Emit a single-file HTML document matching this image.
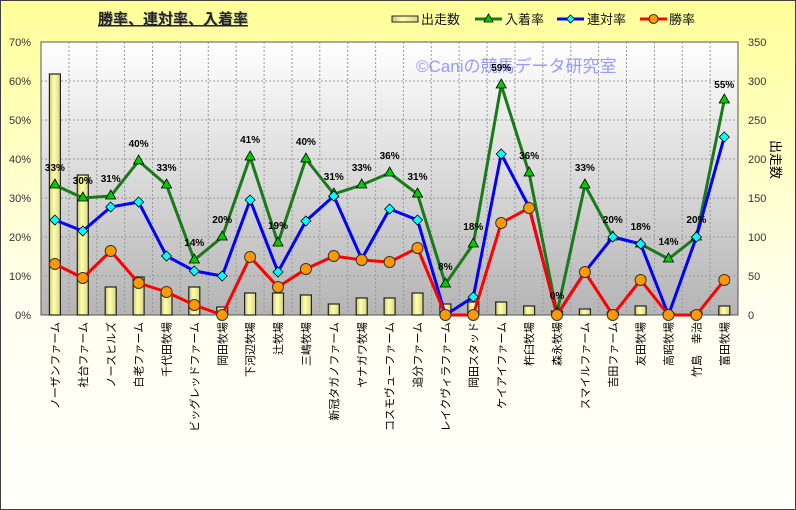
<!DOCTYPE html>
<html><head><meta charset="utf-8"><style>
html,body{margin:0;padding:0;}
body{width:796px;height:510px;overflow:hidden;}
svg{display:block;font-family:"Liberation Sans","Noto Sans CJK JP",sans-serif;}
</style></head><body>
<svg width="796" height="510" viewBox="0 0 796 510" xmlns="http://www.w3.org/2000/svg">
<defs>
<linearGradient id="bg" x1="0" y1="0" x2="0" y2="1">
<stop offset="0" stop-color="#ffff99"/><stop offset="0.6" stop-color="#fffff0"/><stop offset="1" stop-color="#fffffa"/></linearGradient>
<linearGradient id="pl" x1="0" y1="0" x2="0" y2="1">
<stop offset="0" stop-color="#ffffff"/><stop offset="1" stop-color="#b4b4b4"/></linearGradient>
<linearGradient id="bar" x1="0" y1="0" x2="1" y2="0">
<stop offset="0" stop-color="#c8c870"/><stop offset="0.4" stop-color="#ffffb0"/><stop offset="1" stop-color="#d8d880"/></linearGradient>
</defs>
<rect x="0.5" y="0.5" width="795" height="509" fill="url(#bg)" stroke="#404040"/>
<text x="99" y="25" font-size="15" font-weight="bold" fill="#c8c8a0">勝率、連対率、入着率</text>
<text x="98" y="24" font-size="15" font-weight="bold" fill="#222" text-decoration="underline">勝率、連対率、入着率</text>
<g font-size="13" fill="#111">
<rect x="392" y="16" width="26" height="6" fill="url(#bar)" stroke="#222"/><text x="421" y="24">出走数</text>
<line x1="475" y1="19" x2="502" y2="19" stroke="#1a7a1a" stroke-width="3"/><polygon points="488.5,14 493,22 484,22" fill="#0c0" stroke="#000" stroke-width="0.8"/><text x="505" y="24">入着率</text>
<line x1="557" y1="19" x2="584" y2="19" stroke="#0000ff" stroke-width="3"/><polygon points="570.5,15 574.5,19 570.5,23 566.5,19" fill="#0ff" stroke="#000" stroke-width="0.8"/><text x="587" y="24">連対率</text>
<line x1="640" y1="19" x2="667" y2="19" stroke="#f00" stroke-width="3"/><circle cx="653.5" cy="19" r="4.5" fill="#f90" stroke="#000" stroke-width="0.8"/><text x="669" y="24">勝率</text>
</g>
<rect x="41" y="42" width="697" height="273" fill="url(#pl)" stroke="#555"/>
<g stroke="#999" stroke-dasharray="2,2" stroke-width="1">
<line x1="41" y1="81" x2="738" y2="81"/><line x1="41" y1="120" x2="738" y2="120"/><line x1="41" y1="159" x2="738" y2="159"/><line x1="41" y1="198" x2="738" y2="198"/><line x1="41" y1="237" x2="738" y2="237"/><line x1="41" y1="276" x2="738" y2="276"/>
<line x1="68.9" y1="42" x2="68.9" y2="315"/><line x1="96.8" y1="42" x2="96.8" y2="315"/><line x1="124.6" y1="42" x2="124.6" y2="315"/><line x1="152.5" y1="42" x2="152.5" y2="315"/><line x1="180.4" y1="42" x2="180.4" y2="315"/><line x1="208.3" y1="42" x2="208.3" y2="315"/><line x1="236.2" y1="42" x2="236.2" y2="315"/><line x1="264.1" y1="42" x2="264.1" y2="315"/><line x1="292" y1="42" x2="292" y2="315"/><line x1="319.8" y1="42" x2="319.8" y2="315"/><line x1="347.7" y1="42" x2="347.7" y2="315"/><line x1="375.6" y1="42" x2="375.6" y2="315"/><line x1="403.4" y1="42" x2="403.4" y2="315"/><line x1="431.3" y1="42" x2="431.3" y2="315"/><line x1="459.2" y1="42" x2="459.2" y2="315"/><line x1="487.1" y1="42" x2="487.1" y2="315"/><line x1="515" y1="42" x2="515" y2="315"/><line x1="542.9" y1="42" x2="542.9" y2="315"/><line x1="570.8" y1="42" x2="570.8" y2="315"/><line x1="598.6" y1="42" x2="598.6" y2="315"/><line x1="626.5" y1="42" x2="626.5" y2="315"/><line x1="654.4" y1="42" x2="654.4" y2="315"/><line x1="682.3" y1="42" x2="682.3" y2="315"/><line x1="710.2" y1="42" x2="710.2" y2="315"/>
</g>
<text x="416" y="72" font-size="17" fill="#9999ff">©Caniの競馬データ研究室</text>
<g fill="url(#bar)" stroke="#222" stroke-width="1.2">
<rect x="49.4" y="74" width="11" height="241"/><rect x="77.3" y="175" width="11" height="140"/><rect x="105.2" y="287" width="11" height="28"/><rect x="133.1" y="277" width="11" height="38"/><rect x="161" y="293" width="11" height="22"/><rect x="188.8" y="287" width="11" height="28"/><rect x="216.7" y="307" width="11" height="8"/><rect x="244.6" y="293" width="11" height="22"/><rect x="272.5" y="293" width="11" height="22"/><rect x="300.4" y="295" width="11" height="20"/><rect x="328.3" y="304" width="11" height="11"/><rect x="356.2" y="298" width="11" height="17"/><rect x="384.1" y="298" width="11" height="17"/><rect x="412" y="293" width="11" height="22"/><rect x="439.9" y="304" width="11" height="11"/><rect x="467.8" y="302" width="11" height="13"/><rect x="495.7" y="302" width="11" height="13"/><rect x="523.6" y="306" width="11" height="9"/><rect x="551.5" y="311" width="11" height="4"/><rect x="579.4" y="309" width="11" height="6"/><rect x="607.3" y="312" width="11" height="3"/><rect x="635.1" y="306" width="11" height="9"/><rect x="663" y="313" width="11" height="2"/><rect x="690.9" y="312" width="11" height="3"/><rect x="718.8" y="306" width="11" height="9"/>
</g>
<polyline fill="none" stroke="#1a7a1a" stroke-width="3" points="54.9,185 82.8,198 110.7,196 138.6,161 166.5,185 194.3,260 222.2,237 250.1,157 278,243 305.9,159 333.8,194 361.7,185 389.6,173 417.5,194 445.4,284 473.3,244 501.2,85 529.1,173 557,313 584.9,185 612.8,237 640.6,244 668.5,259 696.4,237 724.3,100"/>
<polyline fill="none" stroke="#0000ff" stroke-width="3" points="54.9,220 82.8,231 110.7,207 138.6,202 166.5,256 194.3,271 222.2,276 250.1,200 278,272 305.9,221 333.8,196 361.7,259 389.6,209 417.5,220 445.4,315 473.3,297 501.2,154 529.1,207 557,315 584.9,272 612.8,237 640.6,244 668.5,315 696.4,237 724.3,137"/>
<polyline fill="none" stroke="#ff0000" stroke-width="3" points="54.9,264 82.8,278 110.7,251 138.6,283 166.5,292 194.3,305 222.2,315 250.1,257 278,287 305.9,269 333.8,256 361.7,260 389.6,262 417.5,248 445.4,315 473.3,315 501.2,223 529.1,208 557,315 584.9,272 612.8,315 640.6,280 668.5,315 696.4,315 724.3,280"/>
<g fill="#00cc00" stroke="#000" stroke-width="0.8">
<polygon points="54.9,179 60,188 49.8,188"/><polygon points="82.8,192 87.9,201 77.7,201"/><polygon points="110.7,190 115.8,199 105.6,199"/><polygon points="138.6,155 143.7,164 133.5,164"/><polygon points="166.5,179 171.6,188 161.4,188"/><polygon points="194.3,254 199.4,263 189.2,263"/><polygon points="222.2,231 227.3,240 217.1,240"/><polygon points="250.1,151 255.2,160 245,160"/><polygon points="278,237 283.1,246 272.9,246"/><polygon points="305.9,153 311,162 300.8,162"/><polygon points="333.8,188 338.9,197 328.7,197"/><polygon points="361.7,179 366.8,188 356.6,188"/><polygon points="389.6,167 394.7,176 384.5,176"/><polygon points="417.5,188 422.6,197 412.4,197"/><polygon points="445.4,278 450.5,287 440.3,287"/><polygon points="473.3,238 478.4,247 468.2,247"/><polygon points="501.2,79 506.3,88 496.1,88"/><polygon points="529.1,167 534.2,176 524,176"/><polygon points="557,307 562.1,316 551.9,316"/><polygon points="584.9,179 590,188 579.8,188"/><polygon points="612.8,231 617.9,240 607.7,240"/><polygon points="640.6,238 645.7,247 635.5,247"/><polygon points="668.5,253 673.6,262 663.4,262"/><polygon points="696.4,231 701.5,240 691.3,240"/><polygon points="724.3,94 729.4,103 719.2,103"/>
</g>
<g fill="#00ffff" stroke="#000" stroke-width="0.8">
<polygon points="54.9,215 59.9,220 54.9,225 49.9,220"/><polygon points="82.8,226 87.8,231 82.8,236 77.8,231"/><polygon points="110.7,202 115.7,207 110.7,212 105.7,207"/><polygon points="138.6,197 143.6,202 138.6,207 133.6,202"/><polygon points="166.5,251 171.5,256 166.5,261 161.5,256"/><polygon points="194.3,266 199.3,271 194.3,276 189.3,271"/><polygon points="222.2,271 227.2,276 222.2,281 217.2,276"/><polygon points="250.1,195 255.1,200 250.1,205 245.1,200"/><polygon points="278,267 283,272 278,277 273,272"/><polygon points="305.9,216 310.9,221 305.9,226 300.9,221"/><polygon points="333.8,191 338.8,196 333.8,201 328.8,196"/><polygon points="361.7,254 366.7,259 361.7,264 356.7,259"/><polygon points="389.6,204 394.6,209 389.6,214 384.6,209"/><polygon points="417.5,215 422.5,220 417.5,225 412.5,220"/><polygon points="445.4,310 450.4,315 445.4,320 440.4,315"/><polygon points="473.3,292 478.3,297 473.3,302 468.3,297"/><polygon points="501.2,149 506.2,154 501.2,159 496.2,154"/><polygon points="529.1,202 534.1,207 529.1,212 524.1,207"/><polygon points="557,310 562,315 557,320 552,315"/><polygon points="584.9,267 589.9,272 584.9,277 579.9,272"/><polygon points="612.8,232 617.8,237 612.8,242 607.8,237"/><polygon points="640.6,239 645.6,244 640.6,249 635.6,244"/><polygon points="668.5,310 673.5,315 668.5,320 663.5,315"/><polygon points="696.4,232 701.4,237 696.4,242 691.4,237"/><polygon points="724.3,132 729.3,137 724.3,142 719.3,137"/>
</g>
<g fill="#ff9900" stroke="#333" stroke-width="1">
<circle cx="54.9" cy="264" r="5.5"/><circle cx="82.8" cy="278" r="5.5"/><circle cx="110.7" cy="251" r="5.5"/><circle cx="138.6" cy="283" r="5.5"/><circle cx="166.5" cy="292" r="5.5"/><circle cx="194.3" cy="305" r="5.5"/><circle cx="222.2" cy="315" r="5.5"/><circle cx="250.1" cy="257" r="5.5"/><circle cx="278" cy="287" r="5.5"/><circle cx="305.9" cy="269" r="5.5"/><circle cx="333.8" cy="256" r="5.5"/><circle cx="361.7" cy="260" r="5.5"/><circle cx="389.6" cy="262" r="5.5"/><circle cx="417.5" cy="248" r="5.5"/><circle cx="445.4" cy="315" r="5.5"/><circle cx="473.3" cy="315" r="5.5"/><circle cx="501.2" cy="223" r="5.5"/><circle cx="529.1" cy="208" r="5.5"/><circle cx="557" cy="315" r="5.5"/><circle cx="584.9" cy="272" r="5.5"/><circle cx="612.8" cy="315" r="5.5"/><circle cx="640.6" cy="280" r="5.5"/><circle cx="668.5" cy="315" r="5.5"/><circle cx="696.4" cy="315" r="5.5"/><circle cx="724.3" cy="280" r="5.5"/>
</g>
<g font-size="10" font-weight="bold" fill="#000" text-anchor="middle">
<text x="54.9" y="171">33%</text><text x="82.8" y="184">30%</text><text x="110.7" y="182">31%</text><text x="138.6" y="147">40%</text><text x="166.5" y="171">33%</text><text x="194.3" y="246">14%</text><text x="222.2" y="223">20%</text><text x="250.1" y="143">41%</text><text x="278" y="229">19%</text><text x="305.9" y="145">40%</text><text x="333.8" y="180">31%</text><text x="361.7" y="171">33%</text><text x="389.6" y="159">36%</text><text x="417.5" y="180">31%</text><text x="445.4" y="270">8%</text><text x="473.3" y="230">18%</text><text x="501.2" y="71">59%</text><text x="529.1" y="159">36%</text><text x="557" y="299">0%</text><text x="584.9" y="171">33%</text><text x="612.8" y="223">20%</text><text x="640.6" y="230">18%</text><text x="668.5" y="245">14%</text><text x="696.4" y="223">20%</text><text x="724.3" y="88">55%</text>
</g>
<g font-size="11" fill="#333" text-anchor="end">
<text x="31" y="46">70%</text><text x="31" y="85">60%</text><text x="31" y="124">50%</text><text x="31" y="163">40%</text><text x="31" y="202">30%</text><text x="31" y="241">20%</text><text x="31" y="280">10%</text><text x="31" y="319">0%</text>
</g>
<g font-size="11" fill="#333">
<text x="748" y="46">350</text><text x="748" y="85">300</text><text x="748" y="124">250</text><text x="748" y="163">200</text><text x="748" y="202">150</text><text x="748" y="241">100</text><text x="748" y="280">50</text><text x="748" y="319">0</text>
</g>
<text transform="translate(771,140) rotate(90)" font-size="13" fill="#000">出走数</text>
<g font-size="11" fill="#000" text-anchor="end">
<text transform="translate(59,322) rotate(-90)">ノーザンファーム</text>
<text transform="translate(86.9,322) rotate(-90)">社台ファーム</text>
<text transform="translate(114.8,322) rotate(-90)">ノースヒルズ</text>
<text transform="translate(142.7,322) rotate(-90)">白老ファーム</text>
<text transform="translate(170.6,322) rotate(-90)">千代田牧場</text>
<text transform="translate(198.4,322) rotate(-90)">ビッグレッドファーム</text>
<text transform="translate(226.3,322) rotate(-90)">岡田牧場</text>
<text transform="translate(254.2,322) rotate(-90)">下河辺牧場</text>
<text transform="translate(282.1,322) rotate(-90)">辻牧場</text>
<text transform="translate(310,322) rotate(-90)">三嶋牧場</text>
<text transform="translate(337.9,322) rotate(-90)">新冠タガノファーム</text>
<text transform="translate(365.8,322) rotate(-90)">ヤナガワ牧場</text>
<text transform="translate(393.7,322) rotate(-90)">コスモヴューファーム</text>
<text transform="translate(421.6,322) rotate(-90)">追分ファーム</text>
<text transform="translate(449.5,322) rotate(-90)">レイクヴィラファーム</text>
<text transform="translate(477.4,322) rotate(-90)">岡田スタッド</text>
<text transform="translate(505.3,322) rotate(-90)">ケイアイファーム</text>
<text transform="translate(533.2,322) rotate(-90)">杵臼牧場</text>
<text transform="translate(561.1,322) rotate(-90)">森永牧場</text>
<text transform="translate(589,322) rotate(-90)">スマイルファーム</text>
<text transform="translate(616.9,322) rotate(-90)">吉田ファーム</text>
<text transform="translate(644.7,322) rotate(-90)">友田牧場</text>
<text transform="translate(672.6,322) rotate(-90)">高昭牧場</text>
<text transform="translate(700.5,322) rotate(-90)">竹島　幸治</text>
<text transform="translate(728.4,322) rotate(-90)">富田牧場</text>
</g>
</svg>
</body></html>
